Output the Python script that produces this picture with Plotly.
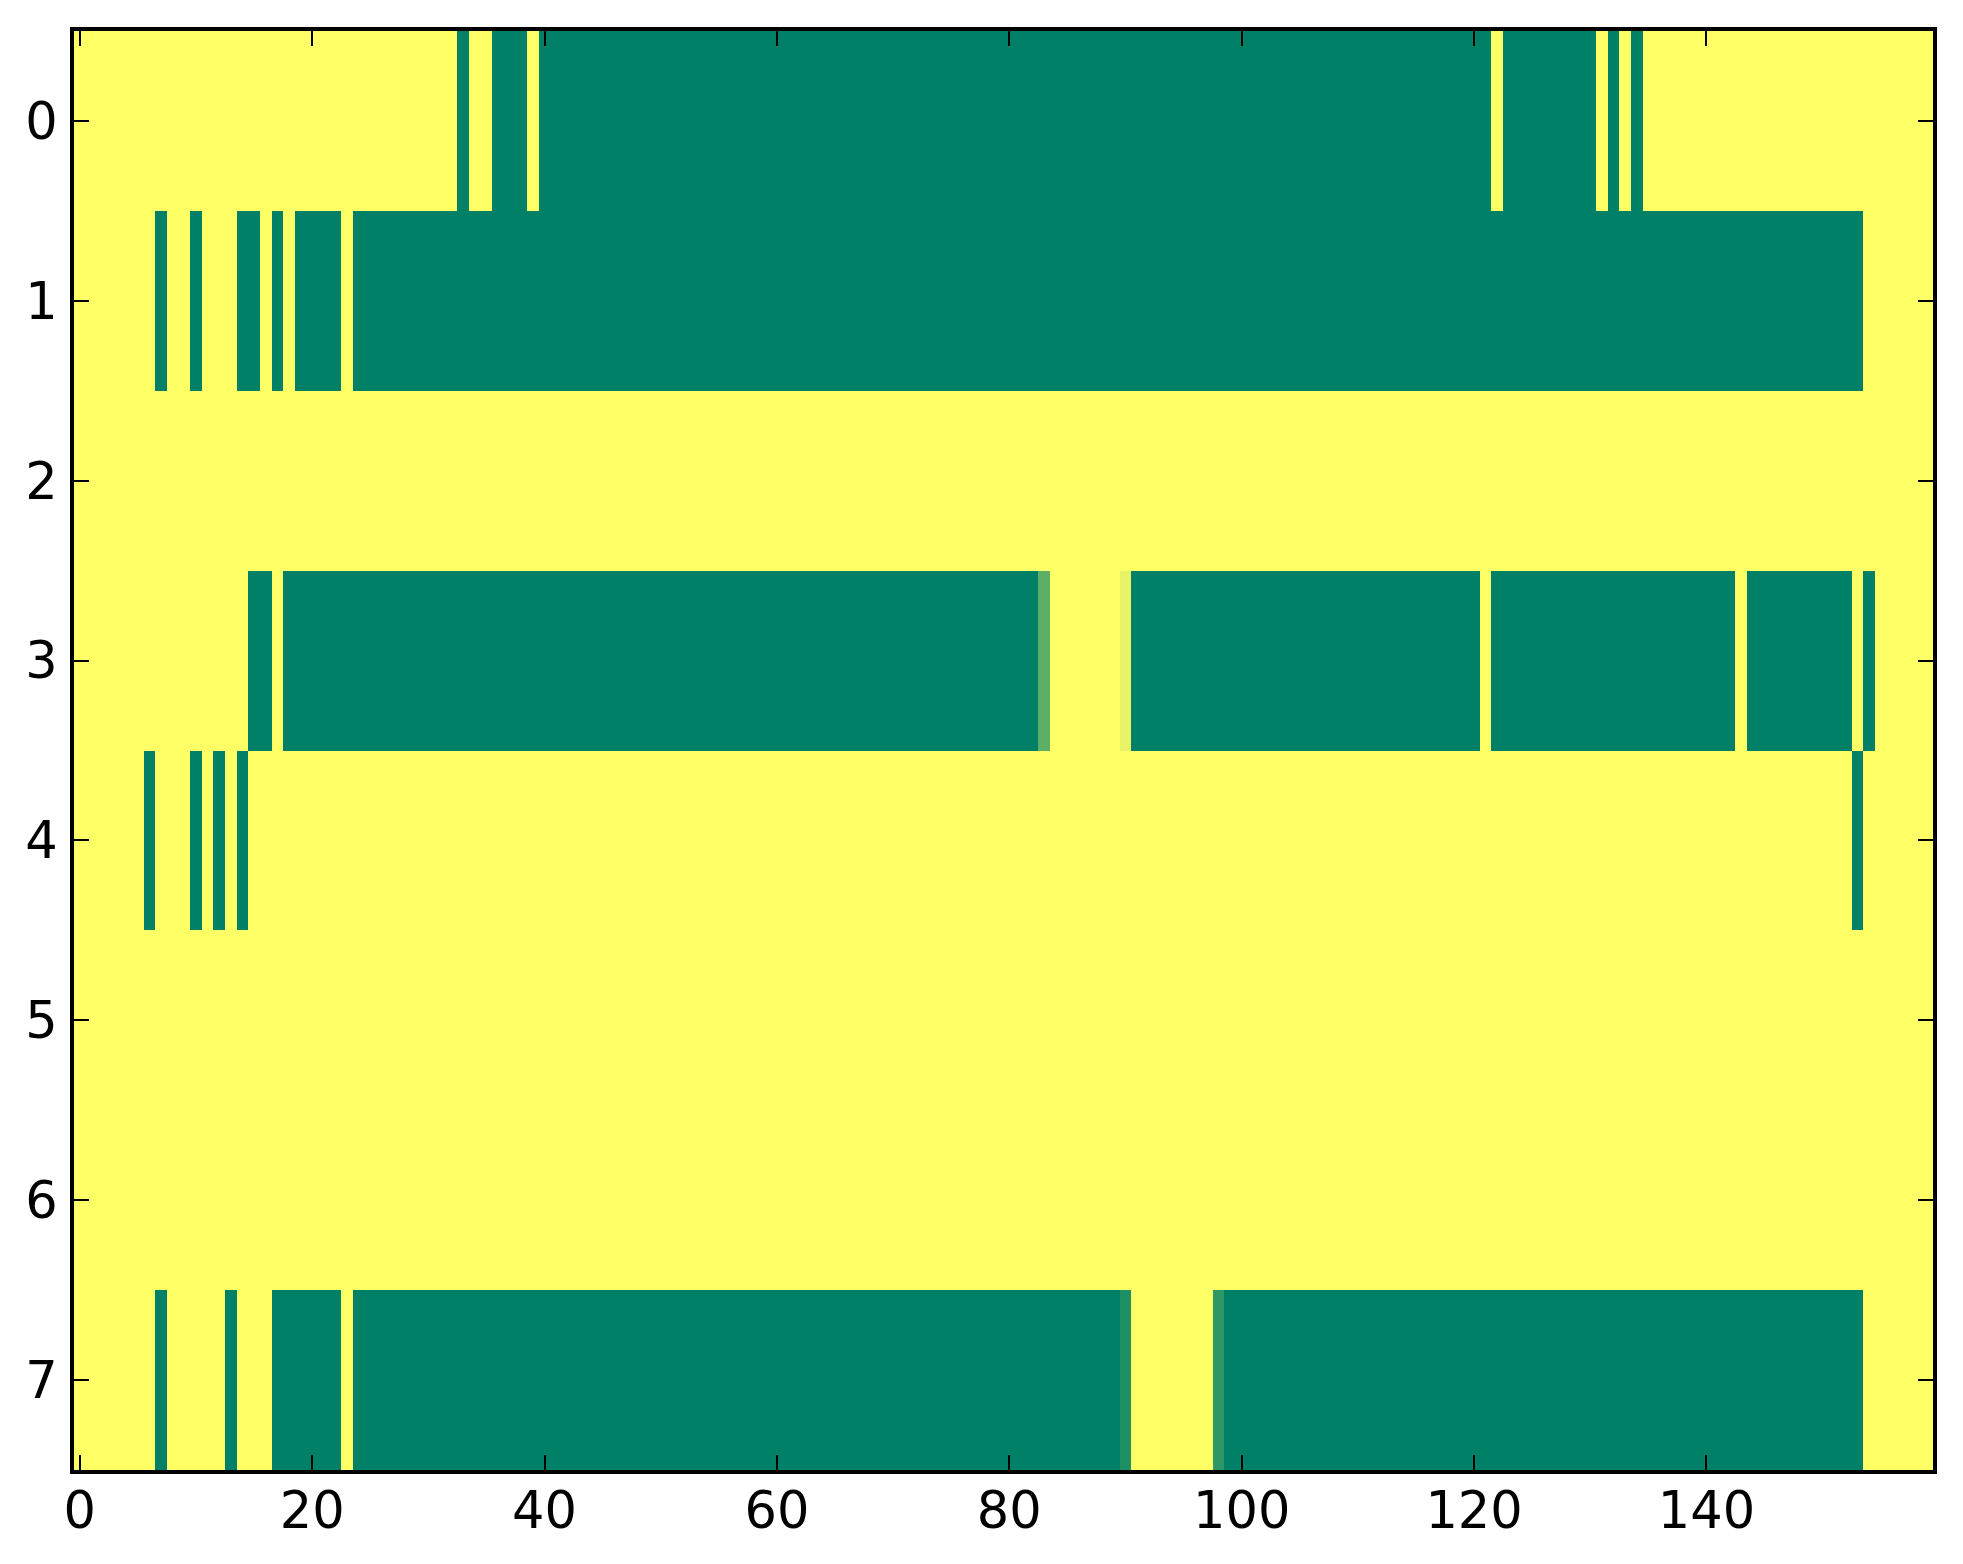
import plotly.graph_objects as go

# Row labels (y) and column indices (x)
row_labels = [0, 1, 2, 3, 4, 5, 6, 7]
col_index = list(range(160))
x_tick_vals = [0, 20, 40, 60, 80, 100, 120, 140]
y_tick_vals = [0, 1, 2, 3, 4, 5, 6, 7]

# Cell values (0 = green end, 1 = yellow end of the 'summer' colormap)
row_0 = [
    1, 1, 1, 1, 1, 1, 1, 1, 1, 1, 1, 1, 1, 1, 1, 1, 1, 1, 1, 1,
    1, 1, 1, 1, 1, 1, 1, 1, 1, 1, 1, 1, 1, 0, 1, 1, 0, 0, 0, 1,
    0, 0, 0, 0, 0, 0, 0, 0, 0, 0, 0, 0, 0, 0, 0, 0, 0, 0, 0, 0,
    0, 0, 0, 0, 0, 0, 0, 0, 0, 0, 0, 0, 0, 0, 0, 0, 0, 0, 0, 0,
    0, 0, 0, 0, 0, 0, 0, 0, 0, 0, 0, 0, 0, 0, 0, 0, 0, 0, 0, 0,
    0, 0, 0, 0, 0, 0, 0, 0, 0, 0, 0, 0, 0, 0, 0, 0, 0, 0, 0, 0,
    0, 0, 1, 0, 0, 0, 0, 0, 0, 0, 0, 1, 0, 1, 0, 1, 1, 1, 1, 1,
    1, 1, 1, 1, 1, 1, 1, 1, 1, 1, 1, 1, 1, 1, 1, 1, 1, 1, 1, 1,
]
row_1 = [
    1, 1, 1, 1, 1, 1, 1, 0, 1, 1, 0, 1, 1, 1, 0, 0, 1, 0, 1, 0,
    0, 0, 0, 1, 0, 0, 0, 0, 0, 0, 0, 0, 0, 0, 0, 0, 0, 0, 0, 0,
    0, 0, 0, 0, 0, 0, 0, 0, 0, 0, 0, 0, 0, 0, 0, 0, 0, 0, 0, 0,
    0, 0, 0, 0, 0, 0, 0, 0, 0, 0, 0, 0, 0, 0, 0, 0, 0, 0, 0, 0,
    0, 0, 0, 0, 0, 0, 0, 0, 0, 0, 0, 0, 0, 0, 0, 0, 0, 0, 0, 0,
    0, 0, 0, 0, 0, 0, 0, 0, 0, 0, 0, 0, 0, 0, 0, 0, 0, 0, 0, 0,
    0, 0, 0, 0, 0, 0, 0, 0, 0, 0, 0, 0, 0, 0, 0, 0, 0, 0, 0, 0,
    0, 0, 0, 0, 0, 0, 0, 0, 0, 0, 0, 0, 0, 0, 1, 1, 1, 1, 1, 1,
]
row_2 = [
    1, 1, 1, 1, 1, 1, 1, 1, 1, 1, 1, 1, 1, 1, 1, 1, 1, 1, 1, 1,
    1, 1, 1, 1, 1, 1, 1, 1, 1, 1, 1, 1, 1, 1, 1, 1, 1, 1, 1, 1,
    1, 1, 1, 1, 1, 1, 1, 1, 1, 1, 1, 1, 1, 1, 1, 1, 1, 1, 1, 1,
    1, 1, 1, 1, 1, 1, 1, 1, 1, 1, 1, 1, 1, 1, 1, 1, 1, 1, 1, 1,
    1, 1, 1, 1, 1, 1, 1, 1, 1, 1, 1, 1, 1, 1, 1, 1, 1, 1, 1, 1,
    1, 1, 1, 1, 1, 1, 1, 1, 1, 1, 1, 1, 1, 1, 1, 1, 1, 1, 1, 1,
    1, 1, 1, 1, 1, 1, 1, 1, 1, 1, 1, 1, 1, 1, 1, 1, 1, 1, 1, 1,
    1, 1, 1, 1, 1, 1, 1, 1, 1, 1, 1, 1, 1, 1, 1, 1, 1, 1, 1, 1,
]
row_3 = [
    1, 1, 1, 1, 1, 1, 1, 1, 1, 1, 1, 1, 1, 1, 1, 0, 0, 1, 0, 0,
    0, 0, 0, 0, 0, 0, 0, 0, 0, 0, 0, 0, 0, 0, 0, 0, 0, 0, 0, 0,
    0, 0, 0, 0, 0, 0, 0, 0, 0, 0, 0, 0, 0, 0, 0, 0, 0, 0, 0, 0,
    0, 0, 0, 0, 0, 0, 0, 0, 0, 0, 0, 0, 0, 0, 0, 0, 0, 0, 0, 0,
    0, 0, 0, 0.37, 1, 1, 1, 1, 1, 1, 0.91, 0, 0, 0, 0, 0, 0, 0, 0, 0,
    0, 0, 0, 0, 0, 0, 0, 0, 0, 0, 0, 0, 0, 0, 0, 0, 0, 0, 0, 0,
    0, 1, 0, 0, 0, 0, 0, 0, 0, 0, 0, 0, 0, 0, 0, 0, 0, 0, 0, 0,
    0, 0, 0, 1, 0, 0, 0, 0, 0, 0, 0, 0, 0, 1, 0, 1, 1, 1, 1, 1,
]
row_4 = [
    1, 1, 1, 1, 1, 1, 0, 1, 1, 1, 0, 1, 0, 1, 0, 1, 1, 1, 1, 1,
    1, 1, 1, 1, 1, 1, 1, 1, 1, 1, 1, 1, 1, 1, 1, 1, 1, 1, 1, 1,
    1, 1, 1, 1, 1, 1, 1, 1, 1, 1, 1, 1, 1, 1, 1, 1, 1, 1, 1, 1,
    1, 1, 1, 1, 1, 1, 1, 1, 1, 1, 1, 1, 1, 1, 1, 1, 1, 1, 1, 1,
    1, 1, 1, 1, 1, 1, 1, 1, 1, 1, 1, 1, 1, 1, 1, 1, 1, 1, 1, 1,
    1, 1, 1, 1, 1, 1, 1, 1, 1, 1, 1, 1, 1, 1, 1, 1, 1, 1, 1, 1,
    1, 1, 1, 1, 1, 1, 1, 1, 1, 1, 1, 1, 1, 1, 1, 1, 1, 1, 1, 1,
    1, 1, 1, 1, 1, 1, 1, 1, 1, 1, 1, 1, 1, 0, 1, 1, 1, 1, 1, 1,
]
row_5 = list(row_2)
row_6 = list(row_2)
row_7 = [
    1, 1, 1, 1, 1, 1, 1, 0, 1, 1, 1, 1, 1, 0, 1, 1, 1, 0, 0, 0,
    0, 0, 0, 1, 0, 0, 0, 0, 0, 0, 0, 0, 0, 0, 0, 0, 0, 0, 0, 0,
    0, 0, 0, 0, 0, 0, 0, 0, 0, 0, 0, 0, 0, 0, 0, 0, 0, 0, 0, 0,
    0, 0, 0, 0, 0, 0, 0, 0, 0, 0, 0, 0, 0, 0, 0, 0, 0, 0, 0, 0,
    0, 0, 0, 0, 0, 0, 0, 0, 0, 0, 0.12, 1, 1, 1, 1, 1, 1, 1, 0.18, 0,
    0, 0, 0, 0, 0, 0, 0, 0, 0, 0, 0, 0, 0, 0, 0, 0, 0, 0, 0, 0,
    0, 0, 0, 0, 0, 0, 0, 0, 0, 0, 0, 0, 0, 0, 0, 0, 0, 0, 0, 0,
    0, 0, 0, 0, 0, 0, 0, 0, 0, 0, 0, 0, 0, 0, 1, 1, 1, 1, 1, 1,
]

z = [row_0, row_1, row_2, row_3, row_4, row_5, row_6, row_7]

# matplotlib 'summer' colormap: (v, 0.5 + 0.5 v, 0.4)
summer = [[0.0, "rgb(0,128,102)"], [1.0, "rgb(255,255,102)"]]

fig = go.Figure(
    go.Heatmap(
        z=z,
        x=col_index,
        y=row_labels,
        colorscale=summer,
        zmin=0,
        zmax=1,
        showscale=False,
        hoverinfo="skip",
    )
)

axis_common = dict(
    showline=True,
    linecolor="black",
    linewidth=4,
    mirror="allticks",
    ticks="inside",
    ticklen=15,
    tickwidth=2,
    tickcolor="black",
    showgrid=False,
    zeroline=False,
    tickfont=dict(family="DejaVu Sans", size=51, color="black"),
)

fig.update_xaxes(
    range=[-0.5, 159.5],
    tickmode="array",
    tickvals=x_tick_vals,
    ticklabelstandoff=-7,
    **axis_common,
)
fig.update_yaxes(
    range=[7.5, -0.5],
    tickmode="array",
    tickvals=y_tick_vals,
    ticklabelstandoff=2,
    **axis_common,
)

# the page body adds an 8 px offset, so the figure is sized/margined to compensate
fig.update_layout(
    width=1955,
    height=1556,
    margin=dict(l=66, r=30, t=23, b=94, pad=0),
    paper_bgcolor="white",
    plot_bgcolor="white",
    showlegend=False,
)

fig.write_html("out.html")
